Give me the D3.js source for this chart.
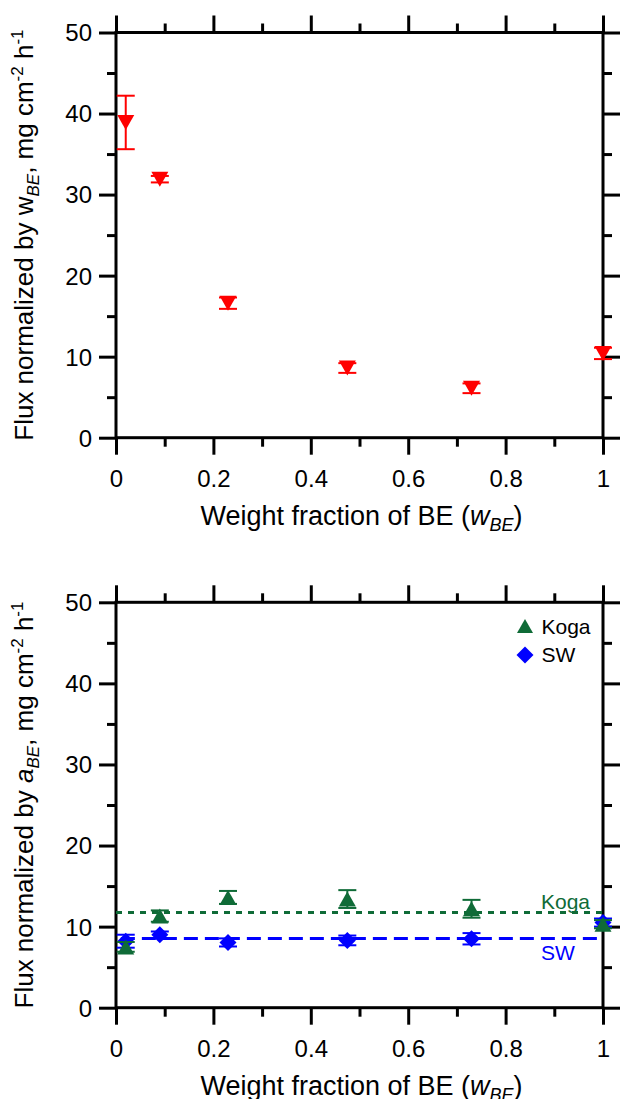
<!DOCTYPE html>
<html>
<head>
<meta charset="utf-8">
<script src="https://cdn.jsdelivr.net/npm/d3@7"></script>
<style>
  html, body { margin: 0; padding: 0; background: #ffffff; }
  svg { display: block; }
  text { font-family: "Liberation Sans", Arial, sans-serif; }
</style>
</head>
<body>
<svg id="chart" width="620" height="1099"></svg>
<script>
// ---------------- DATA ----------------
const wBE = [0.02, 0.09, 0.23, 0.475, 0.73, 1.0];

// Top panel: flux normalized by w_BE
const fluxByW = [38.9, 31.9, 16.6, 8.6, 6.1, 10.4];
const fluxByWErr = [3.3, 0.4, 0.7, 0.6, 0.6, 0.7];

// Bottom panel: flux normalized by a_BE
const kogaFlux = [7.5, 11.3, 13.6, 13.4, 12.2, 10.3];
const kogaErr = [0.6, 0.7, 0.8, 1.1, 1.1, 0.5];
const swFlux = [8.2, 9.0, 8.05, 8.3, 8.5, 10.5];
const swErr = [0.8, 0.4, 0.5, 0.6, 0.7, 0.5];
const kogaMean = 11.75;
const swMean = 8.55;

const xTickValues = [0, 0.2, 0.4, 0.6, 0.8, 1];
const xTickLabels = ["0", "0.2", "0.4", "0.6", "0.8", "1"];
const xMinorValues = [0.1, 0.3, 0.5, 0.7, 0.9];
const yTickValues = [0, 10, 20, 30, 40, 50];
const yTickLabels = ["0", "10", "20", "30", "40", "50"];
const yMinorValues = [5, 15, 25, 35, 45];
const seriesNames = ["Koga", "SW"];

// ---------------- STYLE ----------------
const RED = "#ff0000", GREEN = "#0f6b37", BLUE = "#0000ff";
const svg = d3.select("#chart");

const x = d3.scaleLinear().domain([0, 1]).range([116, 603]);

// custom bbox-centred symbols
const triDown = { draw(ctx, s) { const w = 8.5, h = 7.5; ctx.moveTo(-w, -h); ctx.lineTo(w, -h); ctx.lineTo(0, h); ctx.closePath(); } };
const triUp = { draw(ctx, s) { const w = 8.5, h = 7.5; ctx.moveTo(-w, h); ctx.lineTo(w, h); ctx.lineTo(0, -h); ctx.closePath(); } };
const triUpSmall = { draw(ctx, s) { const w = 8, h = 7; ctx.moveTo(-w, h); ctx.lineTo(w, h); ctx.lineTo(0, -h); ctx.closePath(); } };
const diamond = { draw(ctx, s) { const w = 8.5, h = 8.5; ctx.moveTo(0, -h); ctx.lineTo(w, 0); ctx.lineTo(0, h); ctx.lineTo(-w, 0); ctx.closePath(); } };

function panel(yRange, yTitleParts) {
  const y = d3.scaleLinear().domain([0, 50]).range(yRange);
  const g = svg.append("g");
  const [x0, x1] = x.range();
  const [yb, yt] = y.range();

  // frame
  g.append("rect").attr("x", x0).attr("y", yt).attr("width", x1 - x0).attr("height", yb - yt)
    .attr("fill", "none").attr("stroke", "#000").attr("stroke-width", 3);

  function styleAxis(sel) {
    sel.select(".domain").remove();
    sel.selectAll(".tick line").attr("stroke", "#000").attr("stroke-width", 3);
  }
  const mk = (axisFn, scale, vals, size, labels, tr) => {
    const a = axisFn(scale).tickValues(vals).tickSize(size).tickSizeOuter(0);
    if (labels) a.tickFormat((d, i) => labels[i]); else a.tickFormat("");
    const s = g.append("g").attr("transform", tr).call(a);
    styleAxis(s);
    return s;
  };
  const bottomAx = mk(d3.axisBottom, x, xTickValues, 17, xTickLabels, `translate(0,${yb})`);
  mk(d3.axisBottom, x, xMinorValues, 9, null, `translate(0,${yb})`);
  mk(d3.axisTop, x, xTickValues, 17, null, `translate(0,${yt})`);
  mk(d3.axisTop, x, xMinorValues, 9, null, `translate(0,${yt})`);
  const leftAx = mk(d3.axisLeft, y, yTickValues, 17, yTickLabels, `translate(${x0},0)`);
  mk(d3.axisLeft, y, yMinorValues, 9, null, `translate(${x0},0)`);
  mk(d3.axisRight, y, yTickValues, 17, null, `translate(${x1},0)`);
  mk(d3.axisRight, y, yMinorValues, 9, null, `translate(${x1},0)`);

  bottomAx.selectAll(".tick text").attr("y", 49).attr("dy", null)
    .attr("font-size", 24).attr("fill", "#000").attr("font-family", "Liberation Sans, Arial, sans-serif");
  leftAx.selectAll(".tick text").attr("x", -24).attr("dy", "0.35em")
    .attr("font-size", 24).attr("fill", "#000").attr("font-family", "Liberation Sans, Arial, sans-serif");

  // x title
  const xt = g.append("text").attr("x", (x0 + x1) / 2 + 2).attr("y", yb + 87)
    .attr("text-anchor", "middle").attr("font-size", 27).attr("fill", "#000");
  xt.append("tspan").text("Weight fraction of BE (");
  xt.append("tspan").attr("font-style", "italic").text("w");
  xt.append("tspan").attr("font-style", "italic").attr("font-size", 18).attr("dy", 6).text("BE");
  xt.append("tspan").attr("dy", -6).text(")");

  // y title
  const yc = (yb + yt) / 2;
  const ytl = g.append("text").attr("transform", `translate(33,${yc}) rotate(-90)`)
    .attr("text-anchor", "middle").attr("font-size", 26).attr("fill", "#000");
  yTitleParts.forEach(p => {
    const t = ytl.append("tspan").text(p.t);
    if (p.it) t.attr("font-style", "italic");
    if (p.sub || p.sup) t.attr("font-size", 17);
    if (p.dy) t.attr("dy", p.dy);
  });
  return { g, y };
}

function errorBars(g, y, xs, vs, es, color, cap) {
  const eg = g.append("g").attr("stroke", color).attr("stroke-width", 2).attr("fill", "none");
  xs.forEach((xv, i) => {
    const cx = x(xv), lo = y(vs[i] - es[i]), hi = y(vs[i] + es[i]);
    eg.append("line").attr("x1", cx).attr("x2", cx).attr("y1", lo).attr("y2", hi);
    eg.append("line").attr("x1", cx - cap).attr("x2", cx + cap).attr("y1", lo).attr("y2", lo);
    eg.append("line").attr("x1", cx - cap).attr("x2", cx + cap).attr("y1", hi).attr("y2", hi);
  });
}
function markers(g, y, xs, vs, type, color) {
  g.append("g").selectAll("path").data(xs).join("path")
    .attr("transform", (d, i) => `translate(${x(d)},${y(vs[i])})`)
    .attr("d", d3.symbol().type(type).size(1)).attr("fill", color);
}

// ---------------- TOP PANEL ----------------
const topPanel = panel([437.7, 32.5], [
  { t: "Flux normalized by w" },
  { t: "BE", it: true, sub: true, dy: 6 },
  { t: ", mg cm", dy: -6 },
  { t: "-2", sup: true, dy: -10 },
  { t: " h", dy: 10 },
  { t: "-1", sup: true, dy: -10 }
]);
errorBars(topPanel.g, topPanel.y, wBE, fluxByW, fluxByWErr, RED, 9);
markers(topPanel.g, topPanel.y, wBE, fluxByW, triDown, RED);

// ---------------- BOTTOM PANEL ----------------
const botPanel = panel([1007.7, 602.3], [
  { t: "Flux normalized by " },
  { t: "a", it: true },
  { t: "BE", it: true, sub: true, dy: 6 },
  { t: ", mg cm", dy: -6 },
  { t: "-2", sup: true, dy: -10 },
  { t: " h", dy: 10 },
  { t: "-1", sup: true, dy: -10 }
]);
botPanel.g.append("line").attr("x1", x(0)).attr("x2", x(1)).attr("y1", botPanel.y(kogaMean)).attr("y2", botPanel.y(kogaMean))
  .attr("stroke", GREEN).attr("stroke-width", 3).attr("stroke-dasharray", "6,6");
botPanel.g.append("line").attr("x1", x(0.01)).attr("x2", x(1)).attr("y1", botPanel.y(swMean)).attr("y2", botPanel.y(swMean))
  .attr("stroke", BLUE).attr("stroke-width", 3).attr("stroke-dasharray", "14,7");
botPanel.g.append("text").attr("x", 541).attr("y", botPanel.y(kogaMean) - 3).attr("font-size", 21).attr("fill", GREEN).text(seriesNames[0]);
botPanel.g.append("text").attr("x", 541).attr("y", botPanel.y(swMean) + 22).attr("font-size", 21).attr("fill", BLUE).text(seriesNames[1]);

errorBars(botPanel.g, botPanel.y, wBE, swFlux, swErr, BLUE, 9);
markers(botPanel.g, botPanel.y, wBE, swFlux, diamond, BLUE);
errorBars(botPanel.g, botPanel.y, wBE, kogaFlux, kogaErr, GREEN, 9);
markers(botPanel.g, botPanel.y, wBE, kogaFlux, triUp, GREEN);

// legend
const leg = botPanel.g.append("g");
leg.append("path").attr("transform", "translate(525,626)").attr("d", d3.symbol().type(triUpSmall).size(1)).attr("fill", GREEN);
leg.append("text").attr("x", 541.5).attr("y", 633.5).attr("font-size", 21).attr("fill", "#000").text(seriesNames[0]);
leg.append("path").attr("transform", "translate(525,655)").attr("d", d3.symbol().type(diamond).size(1)).attr("fill", BLUE);
leg.append("text").attr("x", 541.5).attr("y", 662).attr("font-size", 21).attr("fill", "#000").text(seriesNames[1]);
</script>
</body>
</html>
